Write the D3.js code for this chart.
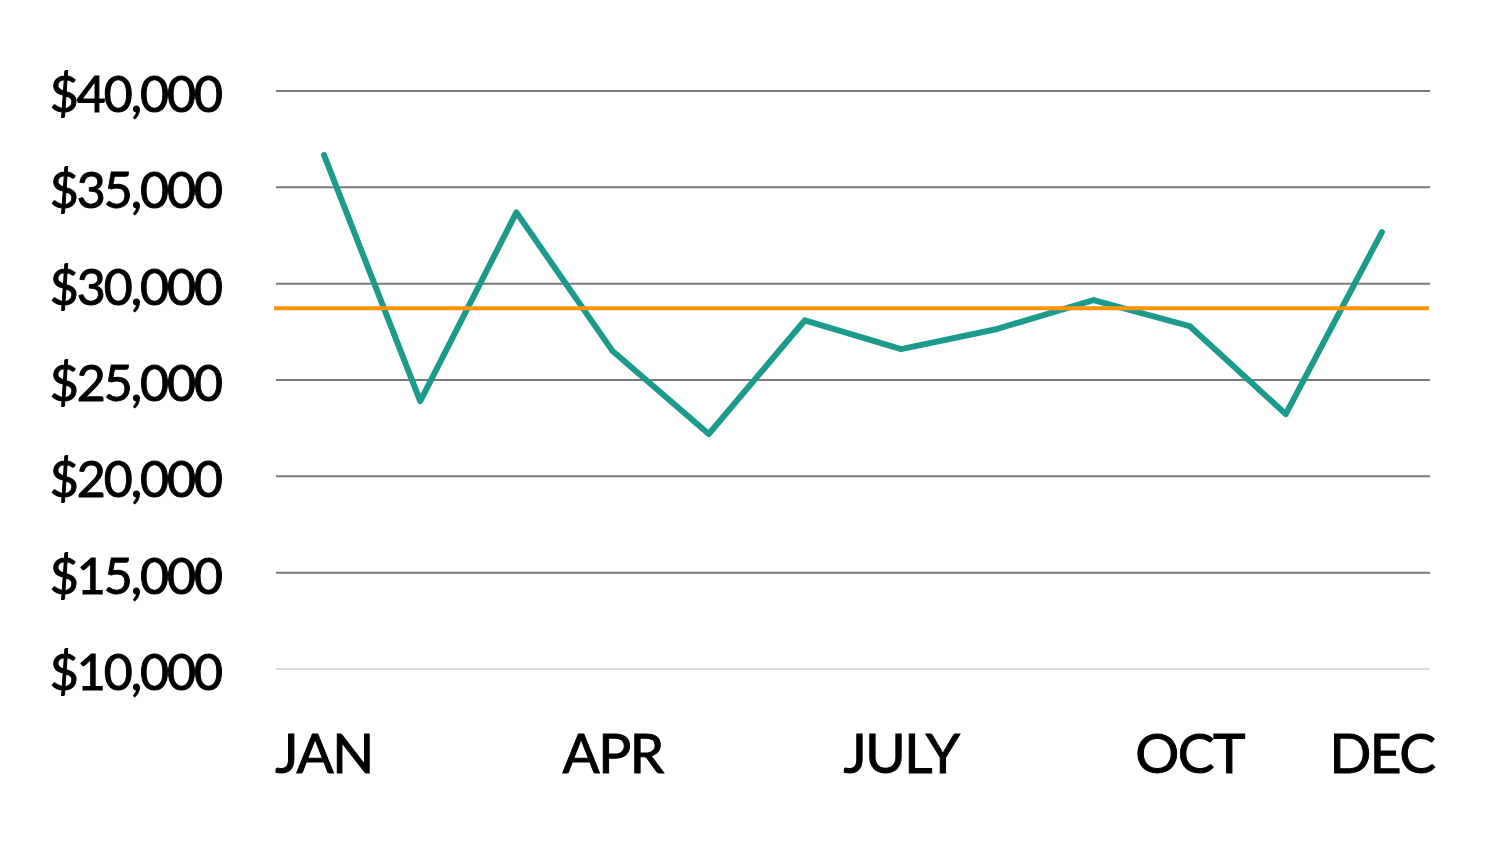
<!DOCTYPE html>
<html>
<head>
<meta charset="utf-8">
<script src="https://cdn.jsdelivr.net/npm/d3@7"></script>
<style>
  html, body { margin: 0; padding: 0; background: #fff; }
  svg { display: block; font-family: Lato, "Open Sans", sans-serif; }
</style>
</head>
<body>
<svg id="chart" width="1500" height="844"></svg>
<script>
const months = ["JAN", "FEB", "MAR", "APR", "MAY", "JUN", "JUL", "AUG", "SEP", "OCT", "NOV", "DEC"];
const sales = [36670, 23900, 33700, 26500, 22200, 28100, 26600, 27650, 29150, 27800, 23230, 32680];
const average = 28730;
const yTicks = [10000, 15000, 20000, 25000, 30000, 35000, 40000];
const xLabels = {JAN: "JAN", APR: "APR", JUL: "JULY", OCT: "OCT", DEC: "DEC"};

const svg = d3.select("#chart");

const x = d3.scalePoint().domain(months).range([276, 1430]).padding(0.5);
const y = d3.scaleLinear().domain([10000, 40000]).range([669, 91]);

// grid lines
svg.append("g")
  .selectAll("line")
  .data(yTicks)
  .join("line")
    .attr("x1", 276)
    .attr("x2", 1430)
    .attr("y1", d => y(d))
    .attr("y2", d => y(d))
    .attr("stroke", d => d === 10000 ? "#d9d9d9" : "#7a7a7a")
    .attr("stroke-width", 2);

// y labels
const fmt = d3.format(",");
svg.append("g")
  .selectAll("text")
  .data(yTicks)
  .join("text")
    .attr("x", 221)
    .attr("y", d => y(d) + 21)
    .attr("text-anchor", "end")
    .attr("font-size", "50px")
    .attr("letter-spacing", "-2px")
    .attr("fill", "#000")
    .attr("stroke", "#000")
    .attr("stroke-width", 1)
    .text(d => "$" + fmt(d));

// x labels
svg.append("g")
  .selectAll("text")
  .data(months.filter(m => xLabels[m]))
  .join("text")
    .attr("x", d => x(d))
    .attr("y", 773)
    .attr("text-anchor", "middle")
    .attr("font-size", "55px")
    .attr("letter-spacing", "-1.5px")
    .attr("fill", "#000")
    .attr("stroke", "#000")
    .attr("stroke-width", 1)
    .text(d => xLabels[d]);

// series line
const line = d3.line()
  .x((d, i) => x(months[i]))
  .y(d => y(d));

svg.append("path")
  .datum(sales)
  .attr("fill", "none")
  .attr("stroke", "#1c9a8c")
  .attr("stroke-width", 6)
  .attr("stroke-linejoin", "round")
  .attr("stroke-linecap", "round")
  .attr("d", line);

// average line
svg.append("line")
  .attr("x1", 274)
  .attr("x2", 1429)
  .attr("y1", y(average))
  .attr("y2", y(average))
  .attr("stroke", "#ff940a")
  .attr("stroke-width", 4);
</script>
</body>
</html>
